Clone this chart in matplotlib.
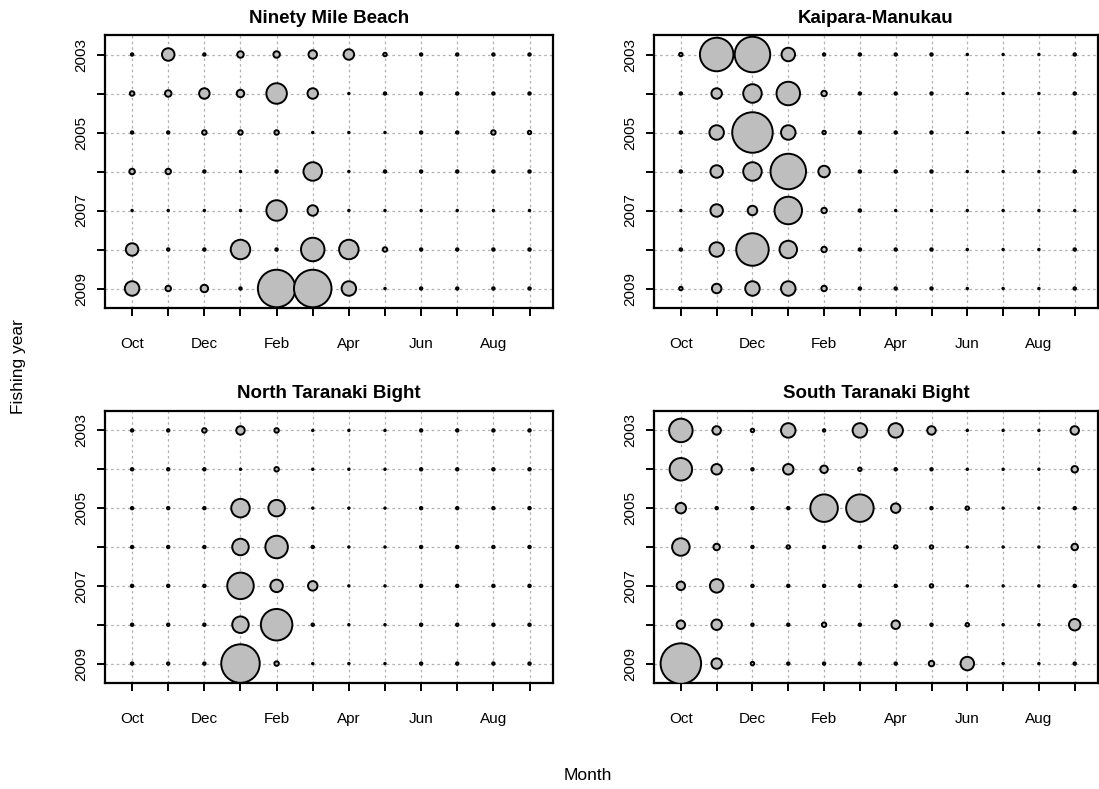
import matplotlib
matplotlib.use("Agg")
import matplotlib.pyplot as plt
import numpy as np

plt.rcParams['font.family'] = ['Liberation Sans', 'DejaVu Sans']

months = ["Oct", "Nov", "Dec", "Jan", "Feb", "Mar", "Apr", "May", "Jun", "Jul", "Aug", "Sep"]
month_labels = ["Oct", "", "Dec", "", "Feb", "", "Apr", "", "Jun", "", "Aug", ""]
years = [2003, 2004, 2005, 2006, 2007, 2008, 2009]
year_labels = ["2003", "", "2005", "", "2007", "", "2009"]

titles = ["Ninety Mile Beach", "Kaipara-Manukau", "North Taranaki Bight", "South Taranaki Bight"]

# relative bubble diameters (rows = fishing years 2003..2009, cols = Oct..Sep)
ninety_mile = [
    [4, 14, 4, 8, 8, 10, 12, 5, 4, 4, 4, 4],
    [6, 8, 12, 9, 22, 12, 3, 4, 4, 4, 4, 4],
    [4, 4, 6, 6, 6, 3, 3, 3, 4, 4, 6, 5],
    [7, 7, 4, 3, 4, 20, 3, 4, 4, 4, 4, 4],
    [3, 3, 3, 3, 22, 12, 3, 3, 3, 3, 3, 3],
    [14, 4, 4, 21, 4, 25, 21, 6, 4, 4, 4, 4],
    [16, 7, 9, 4, 39, 39, 16, 3, 4, 4, 4, 4],
]
kaipara = [
    [5, 35, 37, 15, 4, 4, 4, 4, 3, 3, 3, 4],
    [4, 12, 20, 25, 7, 4, 4, 4, 3, 3, 3, 4],
    [4, 16, 42, 16, 5, 4, 4, 4, 3, 3, 3, 4],
    [4, 14, 20, 37, 13, 4, 4, 4, 3, 3, 3, 4],
    [3, 14, 11, 29, 7, 4, 3, 3, 3, 3, 3, 3],
    [4, 16, 34, 19, 7, 4, 4, 4, 3, 3, 3, 4],
    [5, 11, 16, 16, 7, 4, 4, 4, 3, 3, 3, 4],
]
north_taranaki = [
    [4, 4, 6, 10, 6, 3, 3, 3, 4, 4, 4, 4],
    [4, 4, 4, 3, 6, 3, 3, 3, 4, 4, 4, 4],
    [4, 4, 4, 20, 18, 3, 3, 3, 4, 4, 4, 4],
    [4, 4, 4, 18, 24, 4, 3, 3, 4, 4, 4, 4],
    [4, 4, 4, 28, 14, 11, 3, 3, 4, 4, 4, 4],
    [4, 4, 4, 18, 33, 4, 3, 3, 4, 4, 4, 4],
    [4, 4, 4, 40, 6, 3, 3, 3, 4, 4, 4, 4],
]
south_taranaki = [
    [25, 10, 5, 16, 4, 16, 16, 10, 3, 3, 3, 10],
    [24, 12, 4, 12, 9, 5, 4, 4, 3, 3, 3, 8],
    [12, 4, 4, 4, 29, 29, 11, 4, 5, 3, 3, 4],
    [19, 8, 4, 5, 4, 4, 5, 5, 3, 3, 3, 8],
    [10, 15, 4, 4, 4, 4, 4, 5, 3, 3, 3, 4],
    [10, 12, 4, 4, 6, 4, 10, 4, 5, 3, 3, 13],
    [42, 12, 5, 4, 4, 4, 4, 7, 15, 3, 3, 4],
]
panels = [ninety_mile, kaipara, north_taranaki, south_taranaki]

W, H = 1099, 789
fig = plt.figure(figsize=(W / 100, H / 100), dpi=100)

boxes = [(105, 35, 553, 308), (654, 35, 1098, 308),
         (105, 411, 553, 683), (654, 411, 1098, 683)]

xpos = np.arange(len(months))
for data, title, (l, t, r, b) in zip(panels, titles, boxes):
    ax = fig.add_axes([l / W, 1 - b / H, (r - l) / W, (b - t) / H])
    arr = np.array(data, dtype=float)
    X, Y = np.meshgrid(xpos, years)
    for xv in xpos:
        ax.axvline(xv, color='#b0b0b0', lw=0.9, ls=(0, (2, 2.5)), zorder=1)
    for yv in years:
        ax.axhline(yv, color='#b0b0b0', lw=0.9, ls=(0, (2, 2.5)), zorder=1)
    sizes = (np.maximum(arr - 1.5, 1.5) * 0.72) ** 2
    ax.scatter(X.ravel(), Y.ravel(), s=sizes.ravel(), facecolor='#bebebe',
               edgecolor='black', linewidths=1.4, zorder=3, clip_on=True)
    ax.set_xlim(-0.75, 11.65)
    ax.set_ylim(2009.5, 2002.5)
    ax.set_xticks(xpos)
    ax.set_xticklabels(month_labels, fontsize=11)
    ax.set_yticks(years)
    ax.set_yticklabels(year_labels, fontsize=11, rotation=90, va='center')
    ax.tick_params(axis='x', length=6, width=1.4, pad=15)
    ax.tick_params(axis='y', length=6, width=1.4, pad=6)
    for sp in ax.spines.values():
        sp.set_linewidth(1.6)
    ax.set_title(title, fontsize=13.5, fontweight='bold', pad=9)

fig.text(19 / W, 1 - 367 / H, "Fishing year", rotation=90, ha='center', va='center', fontsize=12.5)
fig.text(588 / W, 1 - 775 / H, "Month", ha='center', va='center', fontsize=12.5)

fig.savefig("out.png", dpi=100)
